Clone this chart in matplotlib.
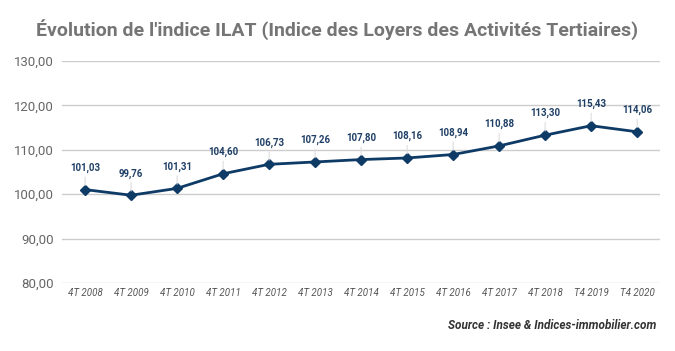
import matplotlib.pyplot as plt
import numpy as np

periods = ["4T 2008", "4T 2009", "4T 2010", "4T 2011", "4T 2012", "4T 2013",
           "4T 2014", "4T 2015", "4T 2016", "4T 2017", "4T 2018", "T4 2019", "T4 2020"]
ilat = [101.03, 99.76, 101.31, 104.60, 106.73, 107.26,
        107.80, 108.16, 108.94, 110.88, 113.30, 115.43, 114.06]
yticks = [80, 90, 100, 110, 120, 130]

plt.rcParams["font.family"] = ["Roboto", "DejaVu Sans"]

fig = plt.figure(figsize=(6.75, 3.51), dpi=100)
ax = fig.add_axes([0.092, 0.194, 0.886, 0.632])

x = np.arange(len(periods))
line_color = "#0e3a66"
ax.plot(x, ilat, color=line_color, linewidth=2, marker="D", markersize=5.5, zorder=3)

# data labels with thin leader lines
for xi, v in zip(x, ilat):
    ax.annotate(
        f"{v:.2f}".replace(".", ","),
        xy=(xi, v),
        xytext=(0, 12),
        textcoords="offset points",
        ha="center",
        va="bottom",
        fontsize=7,
        fontweight="bold",
        color="#1f3f66",
        arrowprops=dict(arrowstyle="-", color="#dddddd", lw=0.8, shrinkA=1, shrinkB=3),
    )

ax.set_xlim(-0.5, len(periods) - 0.5)
ax.set_ylim(80, 130)
ax.set_yticks(yticks)
ax.set_yticklabels([f"{t},00" for t in yticks], fontsize=9.5, color="#666666")
ax.set_xticks(x)
ax.set_xticklabels(periods, fontsize=7, style="italic", color="#555555")
ax.tick_params(axis="both", length=0, pad=4)
ax.tick_params(axis="y", pad=6)

ax.grid(axis="y", color="#cccccc", linewidth=1)
ax.set_axisbelow(True)
for s in ax.spines.values():
    s.set_visible(False)

fig.text(0.5, 0.915, "Évolution de l'indice ILAT (Indice des Loyers des Activités Tertiaires)",
         ha="center", va="center", fontsize=14, fontweight="bold", color="#757575")
fig.text(0.972, 0.072, "Source : Insee & Indices-immobilier.com",
         ha="right", va="center", fontsize=8.5, fontweight="bold", style="italic", color="#333333")

fig.savefig("out.png", dpi=100)
